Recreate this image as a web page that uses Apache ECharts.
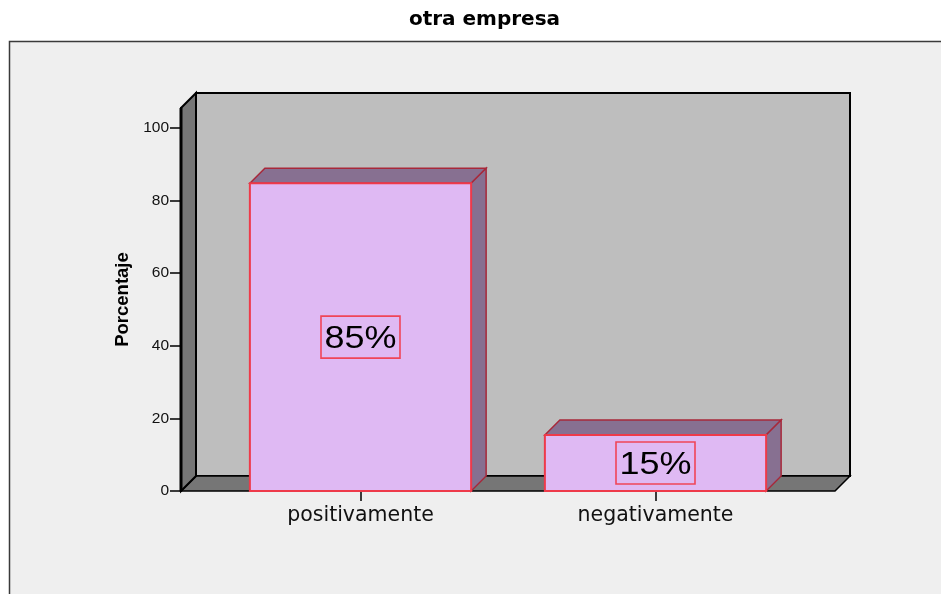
<!DOCTYPE html>
<html><head><meta charset="utf-8">
<style>html,body{margin:0;padding:0;background:#fff}#c{width:941px;height:594px}</style>
<script src="https://cdn.jsdelivr.net/npm/echarts@6/dist/echarts.min.js"></script>
</head><body><div id="c"></div>
<script>
const titleText = 'otra empresa';
const yAxisName = 'Porcentaje';
const categories = ['positivamente', 'negativamente'];
const percentages = [84.7, 15.4];
const barLabels = ['85%', '15%'];
const yTicks = [0, 20, 40, 60, 80, 100];

const DEPTH = 15, OFFSET = 32;
const chart = echarts.init(document.getElementById('c'), null, {renderer: 'canvas'});

function renderWalls(params, api) {
  const cs = params.coordSys;
  const l = cs.x - OFFSET, r = cs.x + cs.width + OFFSET;
  const t = cs.y, b = api.coord([0, 0])[1];
  const line = {stroke: '#000', lineWidth: 2};
  return {type: 'group', children: [
    {type: 'polygon', shape: {points: [[l + DEPTH, t - DEPTH], [r + DEPTH, t - DEPTH], [r + DEPTH, b - DEPTH], [l + DEPTH, b - DEPTH]]},
      style: {fill: '#bebebe', ...line}},
    {type: 'polygon', shape: {points: [[l, b], [l + DEPTH, b - DEPTH], [r + DEPTH, b - DEPTH], [r, b]]},
      style: {fill: '#767676', stroke: '#000', lineWidth: 1.5}},
    {type: 'polygon', shape: {points: [[l, t], [l + DEPTH, t - DEPTH], [l + DEPTH, b - DEPTH], [l, b]]},
      style: {fill: '#767676', ...line}},
    {type: 'line', shape: {x1: l, y1: t, x2: l, y2: b}, style: {stroke: '#000', lineWidth: 3}}
  ]};
}

function renderBar(params, api) {
  const i = api.value(0), v = api.value(1);
  const top = api.coord([i, v]), base = api.coord([i, 0]), mid = api.coord([i, v / 2]);
  const w = api.size([1, 0])[0] * 0.75;
  const l = top[0] - w / 2, r = top[0] + w / 2;
  const side = {fill: '#877091', stroke: '#a8283a', lineWidth: 1.5};
  return {type: 'group', children: [
    {type: 'polygon', shape: {points: [[l, top[1]], [l + DEPTH, top[1] - DEPTH], [r + DEPTH, top[1] - DEPTH], [r, top[1]]]}, style: side},
    {type: 'polygon', shape: {points: [[r, top[1]], [r + DEPTH, top[1] - DEPTH], [r + DEPTH, base[1] - DEPTH], [r, base[1]]]}, style: side},
    {type: 'rect', shape: {x: l, y: top[1], width: w, height: base[1] - top[1]},
      style: {fill: '#dfb9f3', stroke: '#ee3a4a', lineWidth: 2}},
    {type: 'rect', shape: {x: top[0] - 39.5, y: mid[1] - 21, width: 79, height: 42},
      style: {fill: 'transparent', stroke: '#f04558', lineWidth: 1.6}},
    {type: 'text', x: top[0], y: mid[1] + 2, scaleX: 1.16, originX: 0,
      style: {text: barLabels[i], fill: '#000', fontSize: 31, fontFamily: 'Liberation Sans', align: 'center', verticalAlign: 'middle'}}
  ]};
}

chart.setOption({
  animation: false,
  backgroundColor: '#fff',
  title: {text: titleText, left: 479.5, top: 5, textAlign: 'center',
    textStyle: {fontFamily: 'DejaVu Sans', fontWeight: 'bold', fontSize: 20, color: '#000'}},
  graphic: [{type: 'rect', z: -10, shape: {x: 9.5, y: 41.5, width: 1000, height: 1000},
    style: {fill: '#efefef', stroke: '#3a3a3a', lineWidth: 1.5}}],
  grid: {left: 213, right: 138, top: 108, bottom: 103, containLabel: false},
  xAxis: {type: 'category', data: categories,
    axisLine: {show: false},
    axisTick: {show: true, alignWithLabel: true, length: 10, lineStyle: {color: '#000', width: 1.5}},
    axisLabel: {fontFamily: 'DejaVu Sans', fontSize: 20.5, color: '#111', margin: 14}},
  yAxis: {type: 'value', min: 0, max: 105.4, offset: OFFSET, splitLine: {show: false},
    name: yAxisName, nameLocation: 'middle', nameGap: 48, nameRotate: 90,
    nameTextStyle: {fontFamily: 'Liberation Sans', fontWeight: 'bold', fontSize: 18.5, color: '#000'},
    axisLine: {show: true, lineStyle: {color: '#000', width: 2}},
    axisTick: {show: true, length: 11, customValues: yTicks, lineStyle: {color: '#000', width: 1.5}},
    axisLabel: {customValues: yTicks, fontFamily: 'Liberation Sans', fontSize: 15.5, color: '#111', margin: 12, padding: [3, 0, 0, 0]}},
  tooltip: {show: false},
  series: [
    {type: 'custom', z: 1, data: [[0, 0]], renderItem: renderWalls, silent: true},
    {type: 'custom', z: 3, data: percentages.map((v, i) => [i, v]), renderItem: renderBar, silent: true}
  ]
});
</script></body></html>
